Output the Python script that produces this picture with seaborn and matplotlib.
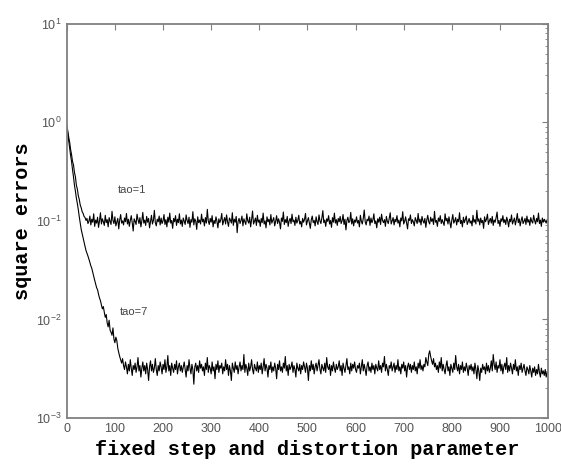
import numpy as np
import pandas as pd
import matplotlib
matplotlib.use("Agg")
import matplotlib.pyplot as plt
import seaborn as sns
from matplotlib.ticker import LogLocator, NullLocator, FixedLocator

# iteration steps (sampled every 2 steps)
steps = np.arange(0, 1000, 2)

# square error, tao=1
err_tao1 = [
    0.92, 0.83, 0.71, 0.63, 0.53, 0.47, 0.40, 0.37, 0.31, 0.28, 0.23, 0.21, 0.18, 0.165, 0.145, 0.136, 0.124, 0.119, 0.111, 0.108,
    0.101, 0.106, 0.094, 0.099, 0.112, 0.091, 0.104, 0.097, 0.118, 0.088, 0.102, 0.095, 0.109, 0.086, 0.100, 0.121, 0.093, 0.105, 0.098, 0.090,
    0.114, 0.096, 0.103, 0.087, 0.108, 0.099, 0.092, 0.125, 0.101, 0.094, 0.110, 0.089, 0.097, 0.106, 0.083, 0.102, 0.116, 0.095, 0.100, 0.091,
    0.107, 0.098, 0.119, 0.093, 0.104, 0.088, 0.101, 0.113, 0.096, 0.079, 0.105, 0.099, 0.092, 0.117, 0.103, 0.094, 0.108, 0.087, 0.100, 0.122,
    0.095, 0.102, 0.090, 0.111, 0.097, 0.106, 0.085, 0.099, 0.114, 0.093, 0.101, 0.128, 0.096, 0.089, 0.104, 0.098, 0.112, 0.091, 0.107, 0.094,
    0.100, 0.116, 0.092, 0.103, 0.087, 0.109, 0.097, 0.120, 0.095, 0.101, 0.084, 0.106, 0.098, 0.113, 0.090, 0.104, 0.096, 0.118, 0.093, 0.102,
    0.088, 0.107, 0.099, 0.092, 0.115, 0.101, 0.094, 0.109, 0.086, 0.103, 0.097, 0.124, 0.091, 0.105, 0.099, 0.082, 0.110, 0.096, 0.102, 0.093,
    0.117, 0.098, 0.104, 0.089, 0.108, 0.095, 0.131, 0.100, 0.092, 0.106, 0.097, 0.113, 0.087, 0.101, 0.094, 0.110, 0.099, 0.085, 0.105, 0.096,
    0.103, 0.119, 0.091, 0.100, 0.108, 0.093, 0.115, 0.098, 0.088, 0.107, 0.102, 0.095, 0.121, 0.090, 0.104, 0.097, 0.111, 0.076, 0.099, 0.106,
    0.094, 0.101, 0.112, 0.089, 0.105, 0.098, 0.092, 0.118, 0.100, 0.095, 0.109, 0.087, 0.103, 0.126, 0.093, 0.099, 0.107, 0.090, 0.114, 0.097,
    0.102, 0.088, 0.106, 0.096, 0.120, 0.093, 0.100, 0.085, 0.110, 0.098, 0.104, 0.091, 0.116, 0.095, 0.101, 0.108, 0.089, 0.099, 0.113, 0.094,
    0.105, 0.097, 0.083, 0.107, 0.099, 0.123, 0.092, 0.103, 0.096, 0.111, 0.088, 0.100, 0.106, 0.094, 0.117, 0.098, 0.102, 0.090, 0.109, 0.095,
    0.101, 0.114, 0.093, 0.099, 0.087, 0.106, 0.097, 0.104, 0.119, 0.091, 0.100, 0.108, 0.095, 0.084, 0.103, 0.112, 0.096, 0.101, 0.089, 0.110,
    0.098, 0.092, 0.115, 0.100, 0.094, 0.107, 0.127, 0.096, 0.102, 0.088, 0.105, 0.099, 0.113, 0.093, 0.101, 0.086, 0.108, 0.097, 0.120, 0.095,
    0.103, 0.090, 0.106, 0.098, 0.111, 0.094, 0.100, 0.116, 0.092, 0.104, 0.081, 0.101, 0.109, 0.096, 0.099, 0.122, 0.093, 0.105, 0.089, 0.102,
    0.097, 0.110, 0.095, 0.101, 0.087, 0.114, 0.099, 0.093, 0.106, 0.129, 0.098, 0.091, 0.104, 0.100, 0.112, 0.090, 0.107, 0.096, 0.102, 0.118,
    0.094, 0.100, 0.085, 0.105, 0.097, 0.109, 0.092, 0.117, 0.101, 0.096, 0.103, 0.088, 0.111, 0.099, 0.094, 0.106, 0.121, 0.093, 0.100, 0.108,
    0.091, 0.104, 0.098, 0.113, 0.095, 0.102, 0.087, 0.107, 0.100, 0.124, 0.093, 0.099, 0.110, 0.096, 0.083, 0.105, 0.101, 0.115, 0.094, 0.103,
    0.098, 0.089, 0.108, 0.101, 0.094, 0.119, 0.097, 0.104, 0.091, 0.111, 0.100, 0.095, 0.106, 0.086, 0.102, 0.114, 0.098, 0.093, 0.109, 0.099,
    0.105, 0.092, 0.125, 0.097, 0.101, 0.088, 0.107, 0.099, 0.113, 0.094, 0.103, 0.096, 0.090, 0.118, 0.100, 0.106, 0.093, 0.110, 0.097, 0.085,
    0.102, 0.116, 0.095, 0.100, 0.108, 0.091, 0.104, 0.098, 0.121, 0.094, 0.101, 0.087, 0.109, 0.096, 0.103, 0.112, 0.092, 0.099, 0.106, 0.095,
    0.100, 0.089, 0.114, 0.097, 0.103, 0.093, 0.128, 0.099, 0.105, 0.091, 0.107, 0.096, 0.101, 0.084, 0.110, 0.098, 0.104, 0.117, 0.092, 0.100,
    0.106, 0.095, 0.111, 0.090, 0.102, 0.097, 0.108, 0.123, 0.094, 0.101, 0.088, 0.105, 0.099, 0.113, 0.096, 0.103, 0.092, 0.109, 0.100, 0.087,
    0.104, 0.098, 0.115, 0.093, 0.100, 0.107, 0.091, 0.102, 0.119, 0.096, 0.105, 0.089, 0.101, 0.110, 0.094, 0.099, 0.106, 0.092, 0.112, 0.097,
    0.103, 0.090, 0.108, 0.099, 0.095, 0.114, 0.101, 0.093, 0.106, 0.098, 0.120, 0.094, 0.102, 0.088, 0.107, 0.097, 0.104, 0.100, 0.095, 0.103,
]

# square error, tao=7
err_tao7 = [
    0.92, 0.78, 0.66, 0.55, 0.46, 0.40, 0.33, 0.28, 0.23, 0.20, 0.17, 0.15, 0.13, 0.11, 0.095, 0.082, 0.074, 0.066, 0.060, 0.055,
    0.050, 0.047, 0.044, 0.041, 0.038, 0.035, 0.033, 0.030, 0.027, 0.025, 0.023, 0.021, 0.020, 0.018, 0.0165, 0.0155, 0.014, 0.0128, 0.0135, 0.0118,
    0.0105, 0.0112, 0.0092, 0.0084, 0.0098, 0.0078, 0.0074, 0.0069, 0.0082, 0.0063, 0.0058, 0.0066, 0.0061, 0.0051, 0.0046, 0.0042, 0.0039, 0.0036, 0.0040, 0.0034,
    0.0031, 0.0037, 0.0033, 0.0028, 0.0035, 0.0030, 0.0039, 0.0032, 0.0027, 0.0034, 0.0031, 0.0036, 0.0029, 0.0033, 0.0041, 0.0030, 0.0034, 0.0026, 0.0032, 0.0037,
    0.0030, 0.0034, 0.0028, 0.0036, 0.0031, 0.0024, 0.0033, 0.0038, 0.0030, 0.0035, 0.0029, 0.0032, 0.0040, 0.0031, 0.0027, 0.0034, 0.0030, 0.0037, 0.0033, 0.0028,
    0.0035, 0.0031, 0.0039, 0.0029, 0.0033, 0.0043, 0.0030, 0.0034, 0.0027, 0.0036, 0.0032, 0.0029, 0.0035, 0.0031, 0.0038, 0.0028, 0.0033, 0.0036, 0.0030, 0.0034,
    0.0029, 0.0033, 0.0037, 0.0031, 0.0026, 0.0034, 0.0030, 0.0039, 0.0032, 0.0028, 0.0035, 0.0031, 0.0022, 0.0033, 0.0036, 0.0030, 0.0034, 0.0029, 0.0038, 0.0032,
    0.0035, 0.0030, 0.0033, 0.0027, 0.0036, 0.0031, 0.0041, 0.0029, 0.0034, 0.0032, 0.0028, 0.0037, 0.0030, 0.0033, 0.0025, 0.0035, 0.0031, 0.0038, 0.0029, 0.0034,
    0.0032, 0.0036, 0.0028, 0.0033, 0.0030, 0.0039, 0.0031, 0.0035, 0.0027, 0.0034, 0.0030, 0.0024, 0.0036, 0.0032, 0.0029, 0.0037, 0.0031, 0.0034, 0.0028, 0.0033,
    0.0037, 0.0030, 0.0034, 0.0031, 0.0044, 0.0029, 0.0035, 0.0032, 0.0027, 0.0036, 0.0030, 0.0033, 0.0039, 0.0031, 0.0028, 0.0035, 0.0032, 0.0030, 0.0037, 0.0029,
    0.0034, 0.0031, 0.0036, 0.0028, 0.0033, 0.0040, 0.0030, 0.0035, 0.0032, 0.0026, 0.0034, 0.0031, 0.0037, 0.0029, 0.0033, 0.0030, 0.0036, 0.0032, 0.0025, 0.0035,
    0.0031, 0.0038, 0.0030, 0.0033, 0.0029, 0.0036, 0.0032, 0.0042, 0.0030, 0.0034, 0.0027, 0.0035, 0.0031, 0.0033, 0.0037, 0.0029, 0.0034, 0.0031, 0.0026, 0.0036,
    0.0032, 0.0030, 0.0035, 0.0028, 0.0034, 0.0031, 0.0037, 0.0033, 0.0029, 0.0036, 0.0032, 0.0024, 0.0034, 0.0030, 0.0038, 0.0031, 0.0035, 0.0028, 0.0033, 0.0036,
    0.0030, 0.0034, 0.0039, 0.0031, 0.0028, 0.0035, 0.0032, 0.0030, 0.0036, 0.0029, 0.0041, 0.0033, 0.0031, 0.0035, 0.0027, 0.0034, 0.0030, 0.0037, 0.0032, 0.0029,
    0.0035, 0.0031, 0.0033, 0.0038, 0.0030, 0.0034, 0.0027, 0.0036, 0.0032, 0.0029, 0.0034, 0.0040, 0.0031, 0.0033, 0.0028, 0.0036, 0.0030, 0.0035, 0.0032, 0.0037,
    0.0031, 0.0029, 0.0034, 0.0032, 0.0036, 0.0028, 0.0033, 0.0039, 0.0030, 0.0035, 0.0031, 0.0027, 0.0034, 0.0037, 0.0030, 0.0033, 0.0029, 0.0036, 0.0031, 0.0034,
    0.0028, 0.0035, 0.0032, 0.0030, 0.0038, 0.0031, 0.0034, 0.0029, 0.0036, 0.0033, 0.0042, 0.0030, 0.0035, 0.0031, 0.0027, 0.0034, 0.0032, 0.0037, 0.0030, 0.0033,
    0.0036, 0.0029, 0.0034, 0.0031, 0.0039, 0.0030, 0.0033, 0.0028, 0.0035, 0.0032, 0.0037, 0.0030, 0.0034, 0.0026, 0.0033, 0.0036, 0.0031, 0.0035, 0.0029, 0.0034,
    0.0031, 0.0037, 0.0030, 0.0033, 0.0028, 0.0036, 0.0032, 0.0039, 0.0031, 0.0034, 0.0030, 0.0035, 0.0033, 0.0041, 0.0037, 0.0034, 0.0044, 0.0048, 0.0042, 0.0038,
    0.0035, 0.0040, 0.0033, 0.0036, 0.0031, 0.0034, 0.0029, 0.0037, 0.0032, 0.0041, 0.0030, 0.0035, 0.0031, 0.0028, 0.0034, 0.0038, 0.0030, 0.0033, 0.0027, 0.0035,
    0.0032, 0.0029, 0.0036, 0.0031, 0.0043, 0.0033, 0.0030, 0.0035, 0.0028, 0.0034, 0.0031, 0.0037, 0.0029, 0.0033, 0.0030, 0.0036, 0.0032, 0.0027, 0.0034, 0.0031,
    0.0035, 0.0030, 0.0033, 0.0028, 0.0036, 0.0031, 0.0025, 0.0034, 0.0030, 0.0024, 0.0032, 0.0029, 0.0035, 0.0031, 0.0033, 0.0028, 0.0036, 0.0030, 0.0034, 0.0029,
    0.0032, 0.0038, 0.0030, 0.0044, 0.0035, 0.0031, 0.0037, 0.0029, 0.0034, 0.0032, 0.0039, 0.0030, 0.0035, 0.0028, 0.0033, 0.0036, 0.0031, 0.0041, 0.0029, 0.0034,
    0.0030, 0.0036, 0.0032, 0.0028, 0.0035, 0.0031, 0.0039, 0.0030, 0.0033, 0.0027, 0.0034, 0.0031, 0.0036, 0.0029, 0.0032, 0.0035, 0.0030, 0.0027, 0.0033, 0.0031,
    0.0028, 0.0034, 0.0030, 0.0026, 0.0032, 0.0029, 0.0033, 0.0027, 0.0031, 0.0028, 0.0035, 0.0029, 0.0026, 0.0032, 0.0028, 0.0030, 0.0027, 0.0031, 0.0026, 0.0029,
]

x_ticks = [0, 100, 200, 300, 400, 500, 600, 700, 800, 900, 1000]

print(len(steps), len(err_tao1), len(err_tao7))

df = pd.DataFrame({
    "step": np.concatenate([steps, steps]),
    "err": err_tao1 + err_tao7,
    "tao": ["tao=1"] * len(steps) + ["tao=7"] * len(steps),
})

sns.set_style("white")
plt.rcParams["font.family"] = ["Liberation Sans", "DejaVu Sans"]

fig = plt.figure(figsize=(5.61, 4.68), dpi=100)
ax = fig.add_axes([0.119, 0.107, 0.858, 0.842])

sns.lineplot(data=df, x="step", y="err", units="tao", estimator=None,
             color="black", linewidth=0.8, ax=ax, legend=False)

ax.set_yscale("log")
ax.set_xlim(0, 1000)
ax.set_ylim(1e-3, 1e1)
ax.xaxis.set_major_locator(FixedLocator(x_ticks))
ax.xaxis.set_minor_locator(NullLocator())
ax.yaxis.set_major_locator(LogLocator(base=10, numticks=10))
ax.yaxis.set_minor_locator(LogLocator(base=10, subs=np.arange(2, 10), numticks=10))

for s in ax.spines.values():
    s.set_color("#808080")
    s.set_linewidth(1.3)

ax.tick_params(which="both", direction="in", top=True, right=True,
               colors="#808080", labelcolor="#555555")
ax.tick_params(which="major", length=4, width=0.8, labelsize=9)
ax.tick_params(which="minor", length=2.5, width=0.6)

ax.text(106, 0.19, "tao=1", fontsize=8, color="#444444")
ax.text(110, 0.0112, "tao=7", fontsize=8, color="#444444")

ax.set_xlabel("fixed step and distortion parameter", family="Liberation Mono",
              fontsize=14.5, fontweight="bold", color="black", labelpad=4)
ax.set_ylabel("square errors", family="Liberation Mono",
              fontsize=14.5, fontweight="bold", color="black", labelpad=3)

fig.savefig("out.png", dpi=100)
